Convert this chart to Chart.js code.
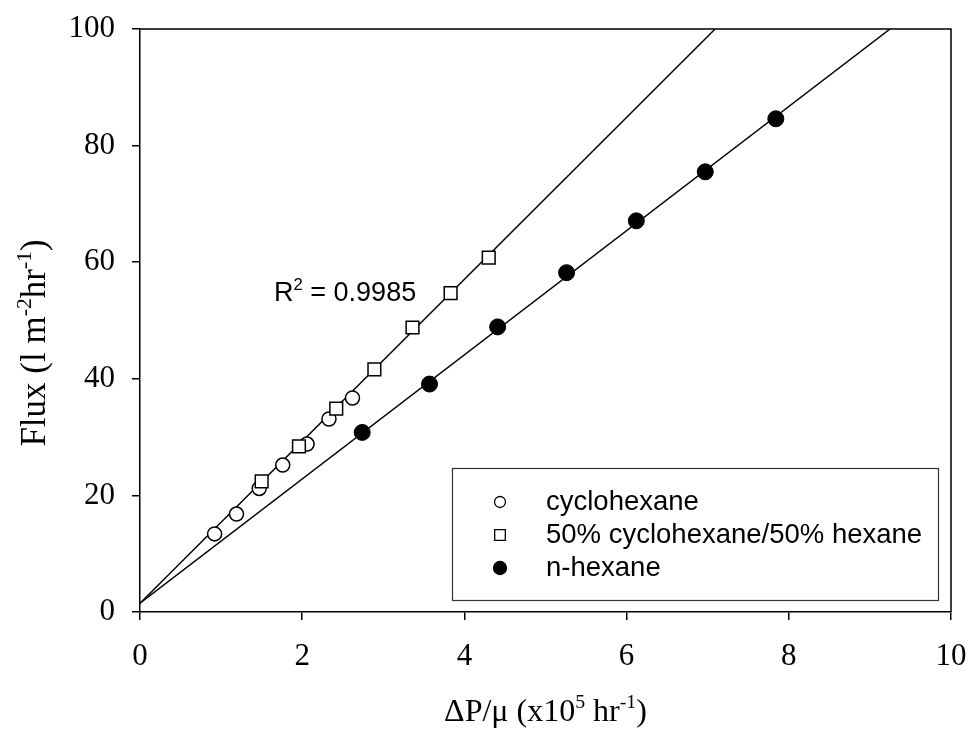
<!DOCTYPE html>
<html>
<head>
<meta charset="utf-8">
<script src="https://cdn.jsdelivr.net/npm/chart.js@4.4.0/dist/chart.umd.min.js"></script>
<style>
  html, body { margin: 0; padding: 0; background: #fff; }
  #wrap { width: 970px; height: 733px; }
</style>
</head>
<body>
<div id="wrap"><canvas id="chart"></canvas></div>
<script>
// data
const cycloX = [0.92, 1.19, 1.47, 1.76, 2.06, 2.33, 2.62];
const cycloY = [13.4, 16.8, 21.2, 25.2, 28.8, 33.1, 36.7];
const mixX = [1.50, 1.96, 2.42, 2.89, 3.36, 3.83, 4.30];
const mixY = [22.4, 28.4, 34.9, 41.6, 48.8, 54.7, 60.8];
const hexX = [2.74, 3.57, 4.41, 5.26, 6.12, 6.97, 7.84];
const hexY = [30.8, 39.1, 48.9, 58.2, 67.1, 75.5, 84.6];

// fitted lines: cyclohexane + mixture, n-hexane
const fitSlope = [13.89, 10.65];
const fitIntercept = [1.5, 1.5];

const xTicks = [0, 2, 4, 6, 8, 10];
const yTicks = [0, 20, 40, 60, 80, 100];
const seriesNames = ['cyclohexane', '50% cyclohexane/50% hexane', 'n-hexane'];
const r2Value = '0.9985';

const serif = "'Liberation Serif', 'Times New Roman', serif";
const sans = "'Liberation Sans', Arial, sans-serif";

const pts = (xs, ys) => xs.map((x, i) => ({ x, y: ys[i] }));
const fitLine = i => {
  const yMax = yTicks[yTicks.length - 1];
  return [
    { x: 0, y: fitIntercept[i] },
    { x: (yMax - fitIntercept[i]) / fitSlope[i], y: yMax }
  ];
};

// text with superscript parts, left to right from x on baseline y
function richWidth(ctx, parts, size) {
  let w = 0;
  parts.forEach(p => {
    ctx.font = (p.sup ? size * 0.62 : size) + 'px ' + p.fam;
    w += ctx.measureText(p.t).width;
  });
  return w;
}
function drawRich(ctx, parts, x, y, size) {
  ctx.textAlign = 'left';
  ctx.textBaseline = 'alphabetic';
  parts.forEach(p => {
    ctx.font = (p.sup ? size * 0.62 : size) + 'px ' + p.fam;
    ctx.fillText(p.t, x, p.sup ? y - size * 0.4 : y);
    x += ctx.measureText(p.t).width;
  });
}

const extras = {
  id: 'extras',
  afterDraw(chart) {
    const ctx = chart.ctx;
    const a = chart.chartArea;
    ctx.save();
    ctx.fillStyle = '#000';
    ctx.strokeStyle = '#000';

    // frame top + right
    ctx.lineWidth = 1.5;
    ctx.beginPath();
    ctx.moveTo(a.left, a.top);
    ctx.lineTo(a.right, a.top);
    ctx.lineTo(a.right, a.bottom);
    ctx.stroke();

    // x title
    const xt = [
      { t: 'ΔP/μ (x10', fam: serif },
      { t: '5', fam: serif, sup: true },
      { t: ' hr', fam: serif },
      { t: '-1', fam: serif, sup: true },
      { t: ')', fam: serif }
    ];
    const xs = 32;
    drawRich(ctx, xt, (a.left + a.right) / 2 - richWidth(ctx, xt, xs) / 2, 721, xs);

    // y title
    const yt = [
      { t: 'Flux (l m', fam: serif },
      { t: '-2', fam: serif, sup: true },
      { t: 'hr', fam: serif },
      { t: '-1', fam: serif, sup: true },
      { t: ')', fam: serif }
    ];
    const ys = 35;
    ctx.save();
    ctx.translate(45, 343);
    ctx.rotate(-Math.PI / 2);
    drawRich(ctx, yt, -richWidth(ctx, yt, ys) / 2, 0, ys);
    ctx.restore();

    // R^2 label
    drawRich(ctx, [
      { t: 'R', fam: sans },
      { t: '2', fam: sans, sup: true },
      { t: ' = ' + r2Value, fam: sans }
    ], 274, 301, 27);

    // legend
    ctx.lineWidth = 1.2;
    ctx.strokeStyle = '#333';
    ctx.strokeRect(452.5, 468.5, 486, 132);
    ctx.strokeStyle = '#000';
    const rows = [502, 535, 568];
    const marks = [
      { pointStyle: 'circle', radius: 5.5, fill: '#fff' },
      { pointStyle: 'rect', radius: 7.5, fill: '#fff' },
      { pointStyle: 'circle', radius: 6.5, fill: '#000' }
    ];
    seriesNames.forEach((name, i) => {
      ctx.fillStyle = marks[i].fill;
      ctx.lineWidth = 1.3;
      Chart.helpers.drawPoint(ctx, { pointStyle: marks[i].pointStyle, radius: marks[i].radius, borderWidth: 1.3, rotation: 0 }, 500, rows[i]);
      ctx.fillStyle = '#000';
      ctx.font = '27.5px ' + sans;
      ctx.textBaseline = 'middle';
      ctx.textAlign = 'left';
      ctx.fillText(name, 546, rows[i]);
    });
    ctx.restore();
  }
};

const noPad = s => { s.paddingTop = 0; s.paddingBottom = 0; s.paddingLeft = 0; s.paddingRight = 0; };

const axisCommon = {
  type: 'linear',
  grid: { drawOnChartArea: false, drawTicks: true, tickLength: 8, color: '#000', lineWidth: 1.5 },
  border: { display: true, color: '#000', width: 1.5 },
  ticks: { color: '#000', font: { family: serif, size: 31 } }
};

new Chart(document.getElementById('chart'), {
  type: 'scatter',
  data: {
    datasets: [
      { label: seriesNames[2], data: pts(hexX, hexY), pointStyle: 'circle', pointRadius: 8, backgroundColor: '#000', borderColor: '#000', borderWidth: 1, order: 1 },
      { label: seriesNames[1], data: pts(mixX, mixY), pointStyle: 'rect', pointRadius: 9, backgroundColor: '#fff', borderColor: '#000', borderWidth: 1.5, order: 2 },
      { label: seriesNames[0], data: pts(cycloX, cycloY), pointStyle: 'circle', pointRadius: 7, backgroundColor: '#fff', borderColor: '#000', borderWidth: 1.5, order: 3 },
      { label: 'fit1', data: fitLine(0), showLine: true, pointRadius: 0, borderColor: '#000', borderWidth: 1.5, order: 5 },
      { label: 'fit2', data: fitLine(1), showLine: true, pointRadius: 0, borderColor: '#000', borderWidth: 1.5, order: 5 }
    ]
  },
  options: {
    responsive: true,
    maintainAspectRatio: false,
    animation: false,
    layout: { padding: { top: 29, right: 19, left: 0, bottom: 0 } },
    plugins: { legend: { display: false }, tooltip: { enabled: false } },
    scales: {
      x: {
        ...axisCommon,
        min: 0, max: 10,
        ticks: { ...axisCommon.ticks, padding: 18, maxRotation: 0 },
        afterBuildTicks: s => { s.ticks = xTicks.map(v => ({ value: v })); },
        afterFit: s => { s.height = 121; noPad(s); }
      },
      y: {
        ...axisCommon,
        min: 0, max: 100,
        ticks: { ...axisCommon.ticks, padding: 17 },
        afterBuildTicks: s => { s.ticks = yTicks.map(v => ({ value: v })); },
        afterFit: s => { s.width = 140; noPad(s); }
      }
    }
  },
  plugins: [extras]
});
</script>
</body>
</html>
